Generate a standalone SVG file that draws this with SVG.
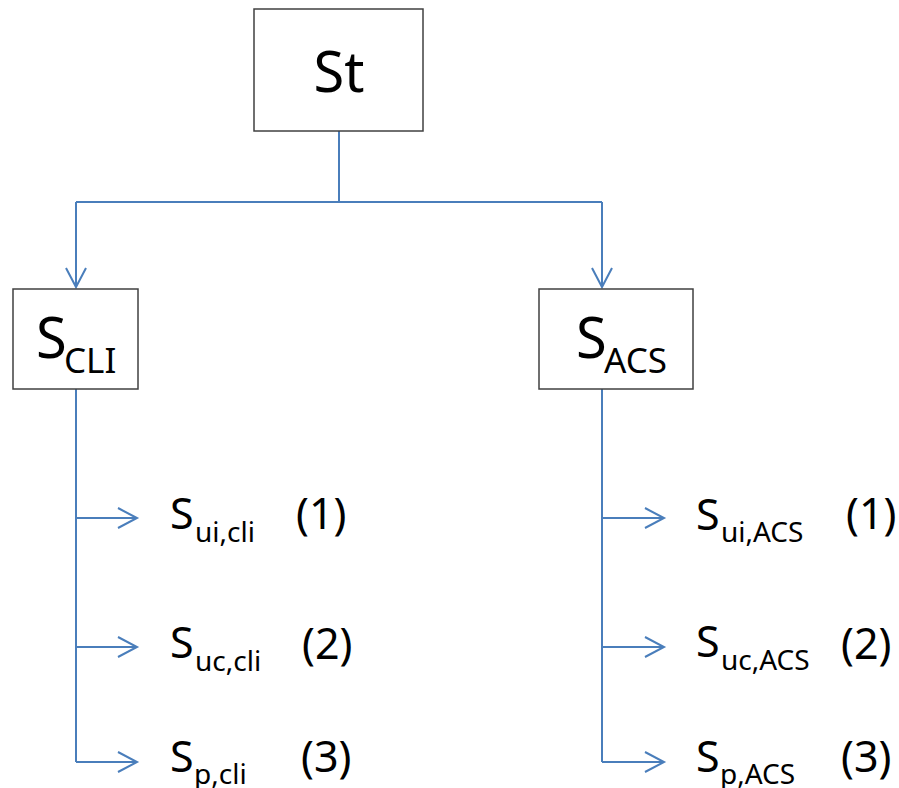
<svg xmlns="http://www.w3.org/2000/svg" width="899" height="788" viewBox="0 0 899 788">
<style>
.box{fill:#ffffff;stroke:#404040;stroke-width:1.5}
.conn{fill:none;stroke:#4A7EBB;stroke-width:2}
text{font-family:"Noto Sans","Open Sans","Liberation Sans",sans-serif;fill:#000000}
.big{font-size:56px}
.bsub{font-size:35px}
.leaf{font-size:43px}
.lsub{font-size:28px}
</style>
<defs>
<marker id="arr" markerUnits="userSpaceOnUse" viewBox="-22 -12 24 24" refX="0" refY="0" markerWidth="24" markerHeight="24" orient="auto" overflow="visible">
<path d="M-19,-10 L0,0 L-19,10" fill="none" stroke="#4A7EBB" stroke-width="2"/>
</marker>
</defs>
<rect width="899" height="788" fill="#ffffff"/>
<g id="connectors" class="conn">
<path d="M339,131 V202 M76,202 H602"/>
<path d="M76,202 V287" marker-end="url(#arr)"/>
<path d="M602,202 V287" marker-end="url(#arr)"/>
<path d="M76,389 V762"/>
<path d="M602,389 V762"/>
<path d="M76,518 H137" marker-end="url(#arr)"/>
<path d="M76,647 H137" marker-end="url(#arr)"/>
<path d="M76,762 H137" marker-end="url(#arr)"/>
<path d="M602,518 H664" marker-end="url(#arr)"/>
<path d="M602,647 H664" marker-end="url(#arr)"/>
<path d="M602,762 H664" marker-end="url(#arr)"/>
</g>
<g id="St">
<rect class="box" x="254" y="9" width="169" height="122"/>
<text class="big" x="339" y="92" text-anchor="middle">St</text>
</g>
<g id="S_CLI">
<rect class="box" x="13" y="289" width="125" height="100"/>
<text class="big" x="36" y="358">S<tspan class="bsub" x="64" y="373">CLI</tspan></text>
</g>
<g id="S_ACS">
<rect class="box" x="539" y="289" width="154" height="100"/>
<text class="big" x="576" y="358">S<tspan class="bsub" x="604" y="373">ACS</tspan></text>
</g>
<g id="S_ui_cli">
<text class="leaf" x="170" y="529">S<tspan class="lsub" x="195" y="542">ui,cli</tspan></text>
<text class="leaf" x="296" y="529">(1)</text>
</g>
<g id="S_uc_cli">
<text class="leaf" x="170" y="658">S<tspan class="lsub" x="195" y="671">uc,cli</tspan></text>
<text class="leaf" x="302" y="659">(2)</text>
</g>
<g id="S_p_cli">
<text class="leaf" x="170" y="772">S<tspan class="lsub" x="194" y="784">p,cli</tspan></text>
<text class="leaf" x="301" y="772">(3)</text>
</g>
<g id="S_ui_ACS">
<text class="leaf" x="696" y="530">S<tspan class="lsub" x="721" y="542">ui,ACS</tspan></text>
<text class="leaf" x="846" y="529">(1)</text>
</g>
<g id="S_uc_ACS">
<text class="leaf" x="696" y="657">S<tspan class="lsub" x="721" y="670">uc,ACS</tspan></text>
<text class="leaf" x="841" y="659">(2)</text>
</g>
<g id="S_p_ACS">
<text class="leaf" x="696" y="772">S<tspan class="lsub" x="720" y="784">p,ACS</tspan></text>
<text class="leaf" x="841" y="772">(3)</text>
</g>
</svg>
